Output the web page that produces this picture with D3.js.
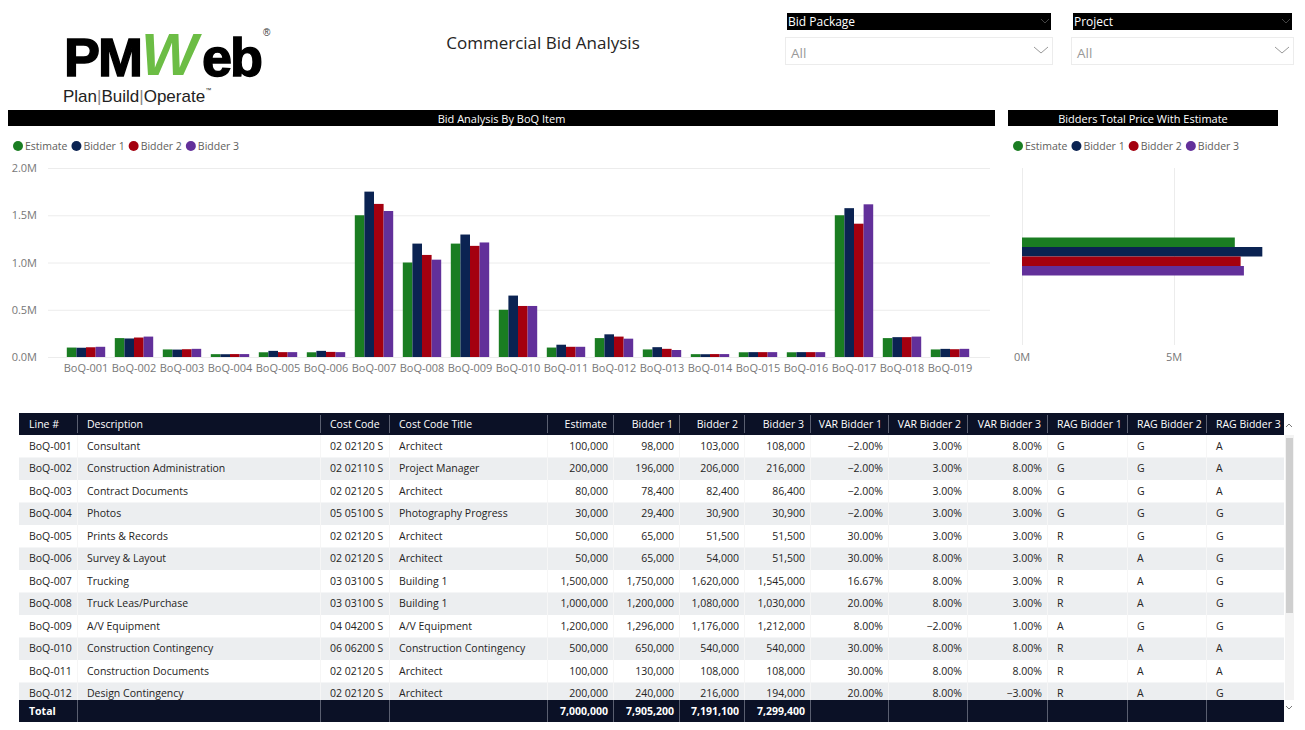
<!DOCTYPE html>
<html>
<head>
  <title>Commercial Bid Analysis</title>
  <script src="https://d3js.org/d3.v7.min.js"></script>
  <style>
    body { margin: 0; background: #fff; }
    svg { font-family: "Open Sans", "Noto Sans", sans-serif; }
  </style>
</head>
<body>
  <div id="report"></div>
  <script>
    // BoQ items and series
    const items = ["BoQ-001","BoQ-002","BoQ-003","BoQ-004","BoQ-005","BoQ-006","BoQ-007","BoQ-008","BoQ-009","BoQ-010",
                   "BoQ-011","BoQ-012","BoQ-013","BoQ-014","BoQ-015","BoQ-016","BoQ-017","BoQ-018","BoQ-019"];
    const series = ["Estimate", "Bidder 1", "Bidder 2", "Bidder 3"];
    const colors = ["#1a7d22", "#0b2352", "#a4000f", "#62309a"];

    const estimate = [100000,200000,80000,30000,50000,50000,1500000,1000000,1200000,500000,
                      100000,200000,80000,30000,50000,50000,1500000,200000,80000];
    const bidder1  = [98000,196000,78400,29400,65000,65000,1750000,1200000,1296000,650000,
                      130000,240000,104000,29400,51500,51500,1575000,210000,86000];
    const bidder2  = [103000,206000,82400,30900,51500,54000,1620000,1080000,1176000,540000,
                      108000,216000,86400,30900,51500,51500,1410600,210000,82400];
    const bidder3  = [108000,216000,86400,30900,51500,51500,1545000,1030000,1212000,540000,
                      108000,194000,74000,30900,51500,51500,1615800,216000,86400];
    const yTicks = [0, 500000, 1000000, 1500000, 2000000];
    const totalTicks = [0, 5000000];

    // table text columns (rows visible in the grid)
    const descriptions = ["Consultant","Construction Administration","Contract Documents","Photos","Prints & Records",
                          "Survey & Layout","Trucking","Truck Leas/Purchase","A/V Equipment","Construction Contingency",
                          "Construction Documents","Design Contingency"];
    const costCodes = ["02 02120 S","02 02110 S","02 02120 S","05 05100 S","02 02120 S","02 02120 S",
                       "03 03100 S","03 03100 S","04 04200 S","06 06200 S","02 02120 S","02 02120 S"];
    const costTitles = ["Architect","Project Manager","Architect","Photography Progress","Architect","Architect",
                        "Building 1","Building 1","A/V Equipment","Construction Contingency","Architect","Architect"];
    const rag1 = ["G","G","G","G","R","R","R","R","A","R","R","R"];
    const rag2 = ["G","G","G","G","G","A","A","A","G","A","A","A"];
    const rag3 = ["A","A","A","G","G","G","G","G","G","A","A","G"];

    const bids = [estimate, bidder1, bidder2, bidder3];
    const totals = bids.map(b => d3.sum(b));

    const svg = d3.select("#report").append("svg")
      .attr("width", 1305)
      .attr("height", 730);

    // ---------- logo + title ----------
    const logoFont = "Liberation Sans, Arial, sans-serif";
    const logo = svg.append("g").attr("font-family", logoFont);
    logo.append("text").attr("x", 64).attr("y", 76)
      .attr("font-weight", "bold").attr("font-size", 54).attr("letter-spacing", -2)
      .attr("stroke", "#000").attr("stroke-width", 1.4).attr("fill", "#000").text("PM");
    logo.append("text").attr("x", 141).attr("y", 75)
      .attr("font-weight", "bold").attr("font-style", "italic").attr("font-size", 60)
      .attr("fill", "#6cbd45").text("W");
    logo.append("text").attr("x", 202).attr("y", 76)
      .attr("font-weight", "bold").attr("font-size", 54).attr("letter-spacing", -2)
      .attr("stroke", "#000").attr("stroke-width", 1.4).attr("fill", "#000").text("eb");
    logo.append("text").attr("x", 263).attr("y", 36).attr("font-size", 10).attr("fill", "#333").text("®");
    logo.append("text").attr("x", 63).attr("y", 102)
      .attr("font-size", 17).attr("fill", "#222")
      .html('Plan<tspan fill="#888">|</tspan>Build<tspan fill="#888">|</tspan>Operate<tspan font-size="6" dy="-10">™</tspan>');

    svg.append("text").attr("x", 543).attr("y", 49).attr("text-anchor", "middle")
      .attr("font-size", 17).attr("fill", "#252423").text("Commercial Bid Analysis");

    // ---------- slicers ----------
    const slicers = [
      { label: "Bid Package", x: 785, w: 268 },
      { label: "Project", x: 1071, w: 223 }
    ];
    slicers.forEach(s => {
      const g = svg.append("g").attr("transform", `translate(${s.x},0)`);
      g.append("rect").attr("x", 2).attr("y", 13).attr("width", s.w - 4).attr("height", 17).attr("fill", "#000");
      g.append("text").attr("x", 3).attr("y", 26).attr("font-size", 12).attr("fill", "#fff").text(s.label);
      g.append("path").attr("d", `M${s.w - 12},19 l4,4 l4,-4`).attr("fill", "none").attr("stroke", "#444");
      g.append("rect").attr("x", 0.5).attr("y", 37.5).attr("width", s.w - 1).attr("height", 27)
        .attr("fill", "#fff").attr("stroke", "#ececec");
      g.append("text").attr("x", 6).attr("y", 58).attr("font-size", 13.5).attr("fill", "#999").text("All");
      g.append("path").attr("d", `M${s.w - 19},47 l7,6 l7,-6`).attr("fill", "none").attr("stroke", "#999");
    });

    // ---------- panel headers + legends ----------
    function header(x, w, label) {
      svg.append("rect").attr("x", x).attr("y", 110).attr("width", w).attr("height", 16).attr("fill", "#000");
      svg.append("text").attr("x", x + w / 2).attr("y", 122.5).attr("text-anchor", "middle")
        .attr("font-size", 11).attr("fill", "#fff").text(label);
    }
    function legend(x0) {
      let x = x0;
      series.forEach((name, i) => {
        svg.append("circle").attr("cx", x + 5).attr("cy", 146).attr("r", 5).attr("fill", colors[i]);
        const t = svg.append("text").attr("x", x + 12).attr("y", 150)
          .attr("font-size", 10.5).attr("fill", "#605e5c").text(name);
        x += 12 + t.node().getComputedTextLength() + 4;
      });
    }
    header(8, 987, "Bid Analysis By BoQ Item");
    header(1008, 270, "Bidders Total Price With Estimate");
    legend(13);
    legend(1013);

    // ---------- clustered column chart ----------
    const x0 = d3.scaleBand().domain(items).range([62, 974]).paddingInner(0.2).paddingOuter(0.1);
    const x1 = d3.scaleBand().domain(series).range([0, x0.bandwidth()]);
    const y = d3.scaleLinear().domain([0, 2000000]).range([357, 168]);

    svg.append("g").selectAll("line").data(yTicks).join("line")
      .attr("x1", 48).attr("x2", 990)
      .attr("y1", d => y(d) + 0.5).attr("y2", d => y(d) + 0.5)
      .attr("stroke", "#ececec");

    svg.append("g").selectAll("text").data(yTicks).join("text")
      .attr("x", 37).attr("y", d => y(d) + 4).attr("text-anchor", "end")
      .attr("font-size", 11).attr("fill", "#777")
      .text(d => d3.format(".1f")(d / 1e6) + "M");

    const groups = svg.append("g").selectAll("g").data(items).join("g")
      .attr("transform", d => `translate(${x0(d)},0)`);
    groups.selectAll("rect")
      .data((d, i) => series.map((s, k) => ({ s, k, v: bids[k][i] })))
      .join("rect")
      .attr("x", d => x1(d.s))
      .attr("width", x1.bandwidth())
      .attr("y", d => y(d.v))
      .attr("height", d => y(0) - y(d.v))
      .attr("fill", d => colors[d.k]);

    svg.append("g").selectAll("text").data(items).join("text")
      .attr("x", d => x0(d) + x0.bandwidth() / 2).attr("y", 372)
      .attr("text-anchor", "middle").attr("font-size", 11).attr("fill", "#777")
      .text(d => d);

    // ---------- totals bar chart ----------
    const tx = d3.scaleLinear().domain([0, 5000000]).range([1022, 1174]);
    const ty = d3.scaleBand().domain(["Total"]).range([168, 345]).paddingOuter(1.83);
    const ty1 = d3.scaleBand().domain(series).range([0, ty.bandwidth()]);

    svg.append("g").selectAll("line").data(totalTicks).join("line")
      .attr("x1", d => tx(d) + 0.5).attr("x2", d => tx(d) + 0.5)
      .attr("y1", 168).attr("y2", 345).attr("stroke", "#ececec");
    svg.append("g").selectAll("text").data(totalTicks).join("text")
      .attr("x", d => tx(d)).attr("y", 361).attr("text-anchor", "middle")
      .attr("font-size", 11).attr("fill", "#777")
      .text(d => (d / 1e6) + "M");

    svg.append("g").selectAll("rect").data(totals).join("rect")
      .attr("x", tx(0))
      .attr("y", (d, i) => ty("Total") + ty1(series[i]))
      .attr("height", ty1.bandwidth())
      .attr("width", d => tx(d) - tx(0))
      .attr("fill", (d, i) => colors[i]);

    // ---------- table ----------
    const fmtNum = d3.format(",");
    const fmtPct = v => d3.format(".2f")(v * 100) + "%";
    const rows = descriptions.map((desc, i) => ({
      line: items[i], desc, code: costCodes[i], title: costTitles[i],
      est: estimate[i], b1: bidder1[i], b2: bidder2[i], b3: bidder3[i],
      v1: bidder1[i] / estimate[i] - 1, v2: bidder2[i] / estimate[i] - 1, v3: bidder3[i] / estimate[i] - 1,
      r1: rag1[i], r2: rag2[i], r3: rag3[i]
    }));

    const columns = [
      { head: "Line #", x: 19, w: 58, key: "line" },
      { head: "Description", x: 77, w: 243, key: "desc" },
      { head: "Cost Code", x: 320, w: 69, key: "code" },
      { head: "Cost Code Title", x: 389, w: 158, key: "title" },
      { head: "Estimate", x: 547, w: 66, key: "est", num: true, f: fmtNum },
      { head: "Bidder 1", x: 613, w: 66, key: "b1", num: true, f: fmtNum },
      { head: "Bidder 2", x: 679, w: 65, key: "b2", num: true, f: fmtNum },
      { head: "Bidder 3", x: 744, w: 66, key: "b3", num: true, f: fmtNum },
      { head: "VAR Bidder 1", x: 810, w: 78, key: "v1", num: true, f: fmtPct },
      { head: "VAR Bidder 2", x: 888, w: 79, key: "v2", num: true, f: fmtPct },
      { head: "VAR Bidder 3", x: 967, w: 80, key: "v3", num: true, f: fmtPct },
      { head: "RAG Bidder 1", x: 1047, w: 80, key: "r1" },
      { head: "RAG Bidder 2", x: 1127, w: 79, key: "r2" },
      { head: "RAG Bidder 3", x: 1206, w: 78, key: "r3" }
    ];
    const tableX = 19, tableW = 1265, headY = 413, rowH = 22.5, bodyY = 435, totalY = 700;

    svg.append("defs").append("clipPath").attr("id", "body-clip")
      .append("rect").attr("x", tableX).attr("y", bodyY).attr("width", tableW).attr("height", totalY - bodyY);

    const body = svg.append("g").attr("clip-path", "url(#body-clip)");
    const rowG = body.selectAll("g").data(rows).join("g")
      .attr("transform", (d, i) => `translate(0,${bodyY + i * rowH})`);
    rowG.append("rect").attr("x", tableX).attr("width", tableW).attr("height", rowH)
      .attr("fill", (d, i) => i % 2 ? "#eceef0" : "#fff");
    rowG.selectAll("line").data(columns.slice(1)).join("line")
      .attr("x1", c => c.x + 0.5).attr("x2", c => c.x + 0.5).attr("y1", 0).attr("y2", rowH)
      .attr("stroke", "#f6f6f6");
    rowG.selectAll("text").data(r => columns.map(c => ({ c, r }))).join("text")
      .attr("x", d => d.c.num ? d.c.x + d.c.w - 5 : d.c.x + 10)
      .attr("y", 14.5)
      .attr("text-anchor", d => d.c.num ? "end" : "start")
      .attr("font-size", 10.5).attr("fill", "#252423")
      .text(d => d.c.f ? d.c.f(d.r[d.c.key]) : d.r[d.c.key]);

    // header row
    svg.append("rect").attr("x", tableX).attr("y", headY).attr("width", tableW).attr("height", bodyY - headY)
      .attr("fill", "#0b1126");
    svg.append("g").selectAll("line").data(columns.slice(1)).join("line")
      .attr("x1", c => c.x + 0.5).attr("x2", c => c.x + 0.5).attr("y1", headY + 2).attr("y2", bodyY - 2)
      .attr("stroke", "#5a5f70");
    svg.append("g").selectAll("text").data(columns).join("text")
      .attr("x", c => c.num ? c.x + c.w - 6 : c.x + 10)
      .attr("y", headY + 15)
      .attr("text-anchor", c => c.num ? "end" : "start")
      .attr("font-size", 10.5).attr("fill", "#fff")
      .text(c => c.head);

    // total row
    const totalByKey = { est: totals[0], b1: totals[1], b2: totals[2], b3: totals[3] };
    svg.append("rect").attr("x", tableX).attr("y", totalY).attr("width", tableW).attr("height", 22)
      .attr("fill", "#0b1126");
    svg.append("g").selectAll("line").data(columns.slice(1)).join("line")
      .attr("x1", c => c.x + 0.5).attr("x2", c => c.x + 0.5).attr("y1", totalY).attr("y2", totalY + 22)
      .attr("stroke", "#5a5f70");
    svg.append("text").attr("x", 29).attr("y", totalY + 15).attr("font-size", 10.5)
      .attr("font-weight", "bold").attr("fill", "#fff").text("Total");
    svg.append("g").selectAll("text").data(columns.filter(c => totalByKey[c.key] !== undefined)).join("text")
      .attr("x", c => c.x + c.w - 5).attr("y", totalY + 15).attr("text-anchor", "end")
      .attr("font-size", 10.5).attr("font-weight", "bold").attr("fill", "#fff")
      .text(c => fmtNum(totalByKey[c.key]));

    // scrollbar
    svg.append("rect").attr("x", 1285).attr("y", 435).attr("width", 9).attr("height", 265).attr("fill", "#f3f3f3");
    svg.append("rect").attr("x", 1286).attr("y", 438).attr("width", 7).attr("height", 175).attr("fill", "#cfcfcf");
    svg.append("path").attr("d", "M1286,427 l3,-3 l3,3").attr("fill", "none").attr("stroke", "#777");
    svg.append("path").attr("d", "M1286,706 l3,3 l3,-3").attr("fill", "none").attr("stroke", "#777");
  </script>
</body>
</html>
